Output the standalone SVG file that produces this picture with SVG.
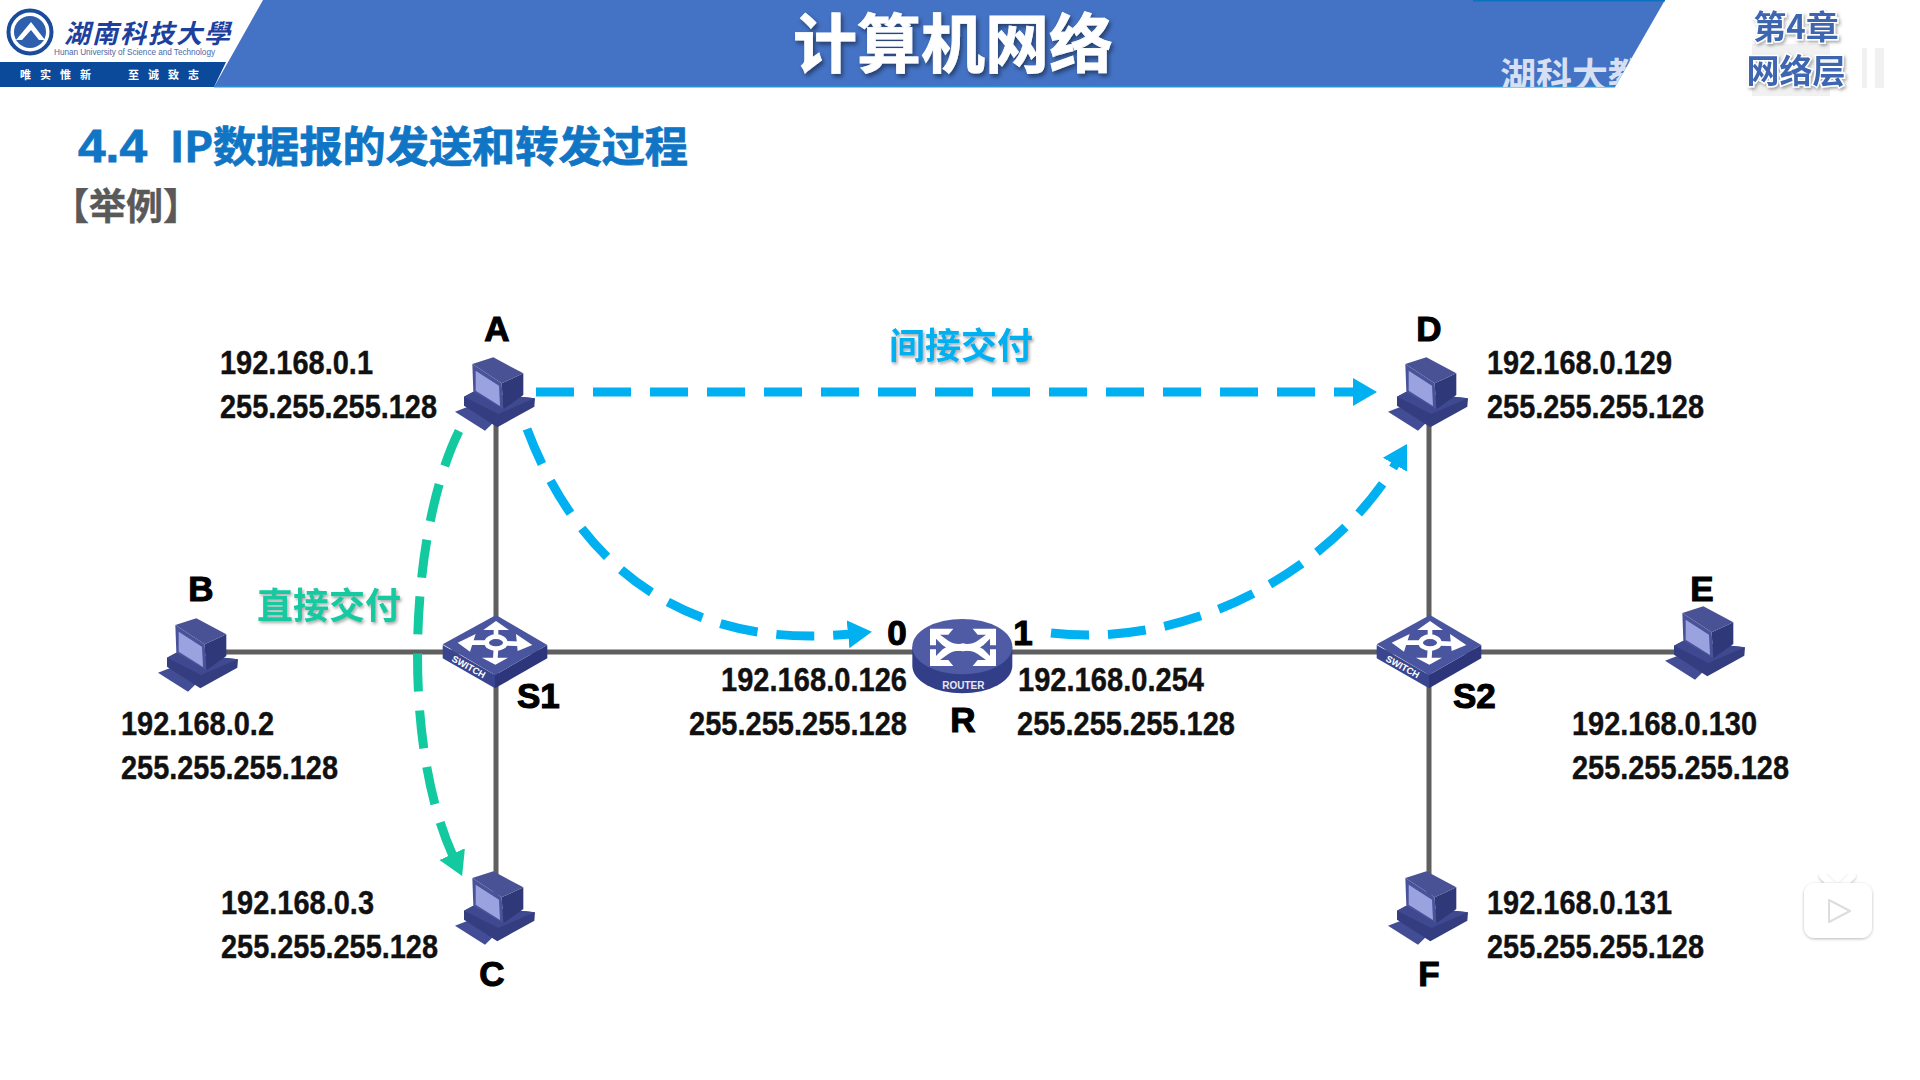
<svg xmlns="http://www.w3.org/2000/svg" xmlns:xlink="http://www.w3.org/1999/xlink" width="1920" height="1080" viewBox="0 0 1920 1080">
<style>
text{font-family:"Liberation Sans","Noto Sans CJK SC",sans-serif}
.ip{font-size:33px;font-weight:700;fill:#111;stroke:#111;stroke-width:.4}
.nm{font-size:35px;font-weight:700;fill:#000;stroke:#000;stroke-width:1.1}
.cjk{font-family:"Noto Sans CJK SC","Liberation Sans",sans-serif;font-weight:700}
.link{stroke:#5f5f5f;stroke-width:5;fill:none}
.blue{stroke:#00b0f0;stroke-width:9;fill:none;stroke-dasharray:38 19}
.green{stroke:#12c9a0;stroke-width:9;fill:none;stroke-dasharray:38 19}
</style>
<defs>
<clipPath id="hc"><path d="M263 0H1665L1615 87H214Z"/></clipPath>
<filter id="ts" x="-10%" y="-20%" width="125%" height="150%"><feDropShadow dx="2" dy="3" stdDeviation="2" flood-color="#000" flood-opacity=".45"/></filter>
<filter id="gs" x="-10%" y="-20%" width="125%" height="150%"><feDropShadow dx="1.5" dy="2" stdDeviation="1.5" flood-color="#555" flood-opacity=".5"/></filter>
<filter id="ps" x="-20%" y="-20%" width="140%" height="140%"><feDropShadow dx="0" dy="1" stdDeviation="1.5" flood-color="#000" flood-opacity=".28"/></filter>
<marker id="ab" markerUnits="userSpaceOnUse" markerWidth="30" markerHeight="30" refX="2" refY="15" orient="auto"><path d="M0 1 L24 15 L0 29Z" fill="#00b0f0"/></marker>
<marker id="ag" markerUnits="userSpaceOnUse" markerWidth="30" markerHeight="30" refX="2" refY="15" orient="auto"><path d="M0 1 L24 15 L0 29Z" fill="#12c9a0"/></marker>
<g id="pc" transform="scale(.3333)">
<path d="M45 215 105 192 168 240 135 272Z" fill="#434d95"/>
<path d="M72 170 100 155 285 175 283 200 172 262 72 197Z" fill="#333d80"/>
<path d="M72 170 100 155 285 175 175 222Z" fill="#3f4990"/>
<path d="M185 130 250 100 250 165 190 208Z" fill="#2f3878"/>
<path d="M97 72 160 52 250 100 185 130Z" fill="#4a5296"/>
<path d="M97 72 185 130 190 208 100 155Z" fill="#4a5299"/>
<path d="M107 92 177 137 180 198 107 152Z" fill="#9aa2e0"/>
</g>
<g id="sw" transform="scale(.3333)">
<path d="M68 165 225 255 225 295 68 205Z" fill="#3a4590"/>
<path d="M225 255 382 165 382 205 225 295Z" fill="#2d367a"/>
<path d="M68 163 228 75 382 165 225 255Z" fill="#4a559f"/>
<g stroke="#fff" stroke-width="14" fill="none">
<path d="M228 140V110M256 160 310 162M200 158H140M228 176 226 205"/>
<ellipse cx="228" cy="158" rx="28" ry="18"/>
</g>
<g fill="#fff">
<path d="M190 120 228 93 267 120Z"/><path d="M288 132 337 165 293 183Z"/><path d="M167 132 113 158 150 185Z"/><path d="M186 203 226 224 264 203Z"/>
<text x="93" y="212" transform="rotate(29 93 212)" style="font-size:28px;font-weight:700">SWITCH</text>
</g>
</g>
<g id="ra">
<path d="M150 86 220 86 205 104 180 104 205 122C220 132 235 134 250 130L250 150C228 156 206 150 188 136L168 116 168 136 150 136Z" fill="#fff"/>
</g>
</defs>
<rect width="1920" height="1080" fill="#fff"/>
<g id="header">
<path d="M263 0H1665L1615 87H214Z" fill="#4472c4"/>
<rect x="1473" y="0" width="192" height="1.5" fill="#0b72c0"/>
<path d="M0 62H226L214 87H0Z" fill="#0b4a9b"/>
<rect x="214" y="86" width="1401" height="1.5" fill="#2f8fd0"/>
<circle cx="30" cy="32" r="21.5" fill="#fff" stroke="#1b4c9c" stroke-width="4"/>
<circle cx="30" cy="32" r="16" fill="#2d5fae"/>
<path d="M16 40 31 22 45 40 39 40 31 30 22 40Z" fill="#fff"/>
<text x="64" y="43" class="cjk" style="font-size:26px;fill:#1d3f9e;font-style:italic;letter-spacing:2px">湖南科技大學</text>
<text x="54" y="55" style="font-size:8.2px;fill:#4868a8" textLength="161">Hunan University of Science and Technology</text>
<text x="20" y="79" class="cjk" style="font-size:11px;fill:#fff;letter-spacing:9px">唯实惟新</text>
<text x="128" y="79" class="cjk" style="font-size:11px;fill:#fff;letter-spacing:9px">至诚致志</text>
<text x="953" y="67" text-anchor="middle" class="cjk" style="font-size:64px;fill:#fff;stroke:#fff;stroke-width:.8" filter="url(#ts)">计算机网络</text>
<g clip-path="url(#hc)"><text x="1500" y="89" class="cjk" style="font-size:36px;fill:#d6e0f2">湖科大教</text></g>
<path d="M1752 44H1830V96H1752ZM1862 48H1867V88H1862ZM1875 48H1884V88H1875Z" fill="#f1f1f1"/>
<text x="1796" y="39" text-anchor="middle" class="cjk" style="font-size:33px;fill:#3d65b0;stroke:#fff;stroke-width:3;paint-order:stroke" filter="url(#gs)">第4章</text>
<text x="1796" y="83" text-anchor="middle" class="cjk" style="font-size:33px;fill:#3d65b0;stroke:#fff;stroke-width:3;paint-order:stroke" filter="url(#gs)">网络层</text>
</g>
<text x="78" y="162" textLength="69" lengthAdjust="spacingAndGlyphs" style="font-size:46px;font-weight:700;fill:#0f75c4;stroke:#0f75c4;stroke-width:.8">4.4</text>
<text x="170" y="162" class="cjk" style="font-size:42px;fill:#0f75c4;stroke:#0f75c4;stroke-width:.8" textLength="518" lengthAdjust="spacingAndGlyphs">IP数据报的发送和转发过程</text>
<text x="52" y="220" class="cjk" style="font-size:37px;fill:#595959;stroke:#595959;stroke-width:.4">【举例】</text>

<g id="connectors">
<path class="link" d="M198 652H1706M496 392V912M1429 392V912"/>
<path class="blue" d="M536 392H1355" marker-end="url(#ab)"/>
<path class="blue" d="M527 429C580 570 690 650 850 634" marker-end="url(#ab)"/>
<path class="blue" d="M1051 633C1200 650 1340 560 1396 463" marker-end="url(#ab)"/>
<path class="green" d="M459 431C410 530 400 740 453 856" marker-end="url(#ag)"/>
</g>
<text x="961" y="359" text-anchor="middle" class="cjk" style="font-size:36px;fill:#00b0f0" filter="url(#gs)">间接交付</text>
<text x="329" y="619" text-anchor="middle" class="cjk" style="font-size:36px;fill:#12c9a0" filter="url(#gs)">直接交付</text>

<g id="A"><use href="#pc" x="440" y="340"/><text class="nm" x="497" y="341" text-anchor="middle">A</text>
<text class="ip" x="220" y="374" textLength="153" lengthAdjust="spacingAndGlyphs">192.168.0.1</text><text class="ip" x="220" y="418" textLength="217" lengthAdjust="spacingAndGlyphs">255.255.255.128</text></g>
<g id="B"><use href="#pc" x="143" y="601"/><text class="nm" x="201" y="601" text-anchor="middle">B</text>
<text class="ip" x="121" y="735" textLength="153" lengthAdjust="spacingAndGlyphs">192.168.0.2</text><text class="ip" x="121" y="779" textLength="217" lengthAdjust="spacingAndGlyphs">255.255.255.128</text></g>
<g id="C"><use href="#pc" x="440" y="854"/><text class="nm" x="492" y="986" text-anchor="middle">C</text>
<text class="ip" x="221" y="914" textLength="153" lengthAdjust="spacingAndGlyphs">192.168.0.3</text><text class="ip" x="221" y="958" textLength="217" lengthAdjust="spacingAndGlyphs">255.255.255.128</text></g>
<g id="D"><use href="#pc" x="1373" y="340"/><text class="nm" x="1429" y="341" text-anchor="middle">D</text>
<text class="ip" x="1487" y="374" textLength="185" lengthAdjust="spacingAndGlyphs">192.168.0.129</text><text class="ip" x="1487" y="418" textLength="217" lengthAdjust="spacingAndGlyphs">255.255.255.128</text></g>
<g id="E"><use href="#pc" x="1650" y="589"/><text class="nm" x="1702" y="601" text-anchor="middle">E</text>
<text class="ip" x="1572" y="735" textLength="185" lengthAdjust="spacingAndGlyphs">192.168.0.130</text><text class="ip" x="1572" y="779" textLength="217" lengthAdjust="spacingAndGlyphs">255.255.255.128</text></g>
<g id="F"><use href="#pc" x="1373" y="854"/><text class="nm" x="1429" y="986" text-anchor="middle">F</text>
<text class="ip" x="1487" y="914" textLength="185" lengthAdjust="spacingAndGlyphs">192.168.0.131</text><text class="ip" x="1487" y="958" textLength="217" lengthAdjust="spacingAndGlyphs">255.255.255.128</text></g>
<g id="S1"><use href="#sw" x="420" y="590"/><text class="nm" x="517" y="708">S1</text></g>
<g id="S2"><use href="#sw" x="1354" y="590"/><text class="nm" x="1453" y="708">S2</text></g>
<g id="R">
<g transform="translate(880 600) scale(.3333)">
<path d="M97 140V197A150 83 0 0 0 397 197V140Z" fill="#333e88"/>
<ellipse cx="247" cy="140" rx="150" ry="83" fill="#505ba6"/>
<use href="#ra"/><use href="#ra" transform="translate(498 0) scale(-1 1)"/>
<use href="#ra" transform="translate(0 284) scale(1 -1)"/><use href="#ra" transform="translate(498 284) scale(-1 -1)"/>
<text x="250" y="266" text-anchor="middle" style="font-size:30px;font-weight:700;fill:#e8e8f4">ROUTER</text>
</g>
<text class="nm" x="963" y="732" text-anchor="middle">R</text>
<text class="nm" x="897" y="645" text-anchor="middle">0</text>
<text class="nm" x="1023" y="645" text-anchor="middle">1</text>
<text class="ip" x="721" y="691" textLength="186" lengthAdjust="spacingAndGlyphs">192.168.0.126</text><text class="ip" x="689" y="735" textLength="218" lengthAdjust="spacingAndGlyphs">255.255.255.128</text>
<text class="ip" x="1018" y="691" textLength="186" lengthAdjust="spacingAndGlyphs">192.168.0.254</text><text class="ip" x="1017" y="735" textLength="218" lengthAdjust="spacingAndGlyphs">255.255.255.128</text>
</g>
<g id="play-badge">
<path d="M1833 886 1823 876M1842 886 1852 876" stroke="#fff" stroke-width="7" stroke-linecap="round" filter="url(#ps)"/>
<rect x="1804" y="883" width="68" height="55" rx="11" fill="#fff" filter="url(#ps)"/>
<path d="M1829 900 1850 911 1829 922Z" fill="#fff" stroke="#ddd" stroke-width="2" stroke-linejoin="round"/>
</g>
</svg>
